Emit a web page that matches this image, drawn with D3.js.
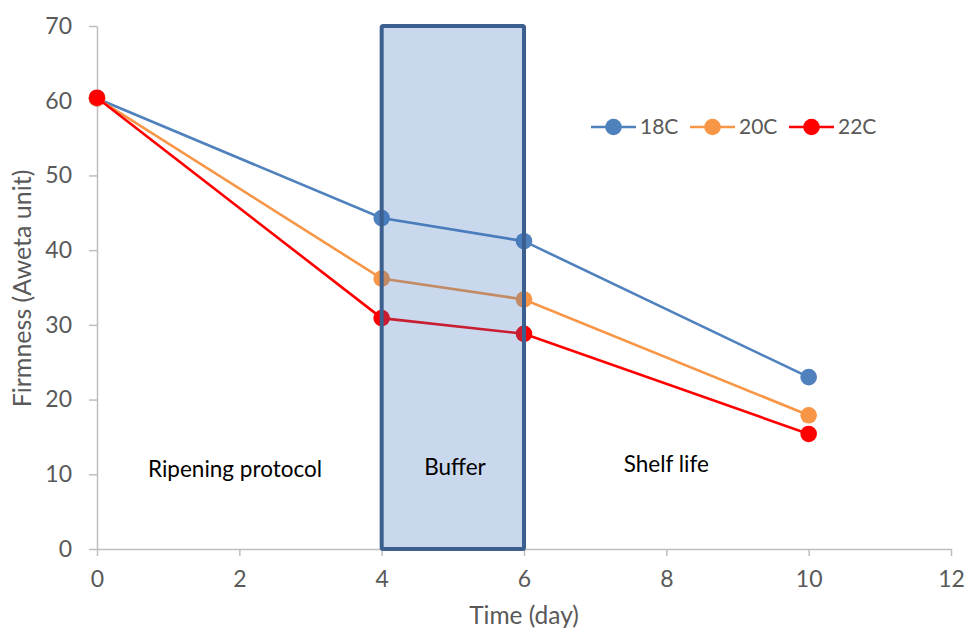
<!DOCTYPE html>
<html>
<head>
<meta charset="utf-8">
<script src="https://cdn.jsdelivr.net/npm/d3@7"></script>
<style>
  html, body { margin: 0; padding: 0; background: #fff; }
  svg { display: block; }
  text { font-family: Lato, "Open Sans", sans-serif; }
</style>
</head>
<body>
<svg id="chart" width="966" height="631"></svg>
<script>
// Firmness over time for three ripening temperatures
const days = [0, 4, 6, 10];
const seriesNames = ["18C", "20C", "22C"];
const firm18 = [60.3, 44.3, 41.2, 23.0];
const firm20 = [60.3, 36.2, 33.4, 17.9];
const firm22 = [60.4, 30.9, 28.8, 15.4];
const seriesColors = ["#4f81bd", "#f79646", "#ff0000"];
const xTicks = [0, 2, 4, 6, 8, 10, 12];
const yTicks = [0, 10, 20, 30, 40, 50, 60, 70];
const bufferSpan = [4, 6];
const phaseLabels = [
  { text: "Ripening protocol", x: 1.94, y: 9.6 },
  { text: "Buffer", x: 5.03, y: 9.85 },
  { text: "Shelf life", x: 8.0, y: 10.25 }
];

const series = seriesNames.map((name, i) => ({
  name,
  color: seriesColors[i],
  values: [firm18, firm20, firm22][i].map((v, j) => ({ day: days[j], value: v }))
}));

const svg = d3.select("#chart");
const margin = { left: 97, right: 15, top: 26, bottom: 82 };
const W = 966, H = 631;

const x = d3.scaleLinear().domain([0, 12]).range([margin.left, W - margin.right]);
const y = d3.scaleLinear().domain([0, 70]).range([H - margin.bottom, margin.top]);

const axisColor = "#bfbfbf";
const labelColor = "#595959";

// Y axis
const yAxis = svg.append("g")
  .attr("transform", `translate(${x(0)},0)`)
  .call(d3.axisLeft(y).tickValues(yTicks).tickSize(8).tickPadding(17).tickSizeOuter(0));
yAxis.select(".domain").attr("stroke", axisColor).attr("stroke-width", 1.5);
yAxis.selectAll(".tick line").attr("stroke", axisColor).attr("stroke-width", 1.5);
yAxis.selectAll(".tick text").attr("fill", labelColor).style("font-size", "23px")
  .style("font-family", "Lato, sans-serif");

// X axis
const xAxis = svg.append("g")
  .attr("transform", `translate(0,${y(0)})`)
  .call(d3.axisBottom(x).tickValues(xTicks).tickSize(7).tickPadding(15).tickSizeOuter(0));
xAxis.select(".domain").attr("stroke", axisColor).attr("stroke-width", 1.5);
xAxis.selectAll(".tick line").attr("stroke", axisColor).attr("stroke-width", 1.5);
xAxis.selectAll(".tick text").attr("fill", labelColor).style("font-size", "23px")
  .style("font-family", "Lato, sans-serif");

// Axis titles
svg.append("text")
  .attr("transform", `translate(31,${(y(0) + y(70)) / 2 + 1}) rotate(-90)`)
  .attr("text-anchor", "middle")
  .attr("fill", labelColor)
  .style("font-size", "25px")
  .text("Firmness (Aweta unit)");

svg.append("text")
  .attr("x", 524)
  .attr("y", 624)
  .attr("text-anchor", "middle")
  .attr("fill", labelColor)
  .style("font-size", "24.5px")
  .text("Time (day)");

// Series lines and markers
const line = d3.line().x(d => x(d.day)).y(d => y(d.value));
const g = svg.append("g");
series.forEach(s => {
  g.append("path")
    .datum(s.values)
    .attr("fill", "none")
    .attr("stroke", s.color)
    .attr("stroke-width", 2.6)
    .attr("d", line);
  g.selectAll(null)
    .data(s.values)
    .enter().append("circle")
    .attr("cx", d => x(d.day))
    .attr("cy", d => y(d.value))
    .attr("r", 8.3)
    .attr("fill", s.color);
});

// Translucent buffer window over the series
svg.append("rect")
  .attr("x", x(bufferSpan[0]))
  .attr("y", y(70))
  .attr("width", x(bufferSpan[1]) - x(bufferSpan[0]))
  .attr("height", y(0) - y(70))
  .attr("fill", "rgb(55,111,185)")
  .attr("fill-opacity", 0.27)
  .attr("stroke", "#3b5f8e")
  .attr("stroke-width", 4)
  .attr("rx", 1.5);

// Phase labels
svg.selectAll(".phase")
  .data(phaseLabels)
  .enter().append("text")
  .attr("class", "phase")
  .attr("x", d => x(d.x))
  .attr("y", d => y(d.y))
  .attr("text-anchor", "middle")
  .attr("fill", "#000")
  .style("font-size", "22.5px")
  .text(d => d.text);

// Legend
const legend = svg.append("g").attr("transform", "translate(591,127)");
const legendStep = 99;
series.forEach((s, i) => {
  const lg = legend.append("g").attr("transform", `translate(${i * legendStep},0)`);
  lg.append("line").attr("x1", 0).attr("x2", 45).attr("y1", 0).attr("y2", 0)
    .attr("stroke", s.color).attr("stroke-width", 2.6);
  lg.append("circle").attr("cx", 22.5).attr("cy", 0).attr("r", 8.3).attr("fill", s.color);
  lg.append("text").attr("x", 49).attr("y", 0).attr("dy", "0.35em")
    .attr("fill", labelColor).style("font-size", "21px").text(s.name);
});
</script>
</body>
</html>
